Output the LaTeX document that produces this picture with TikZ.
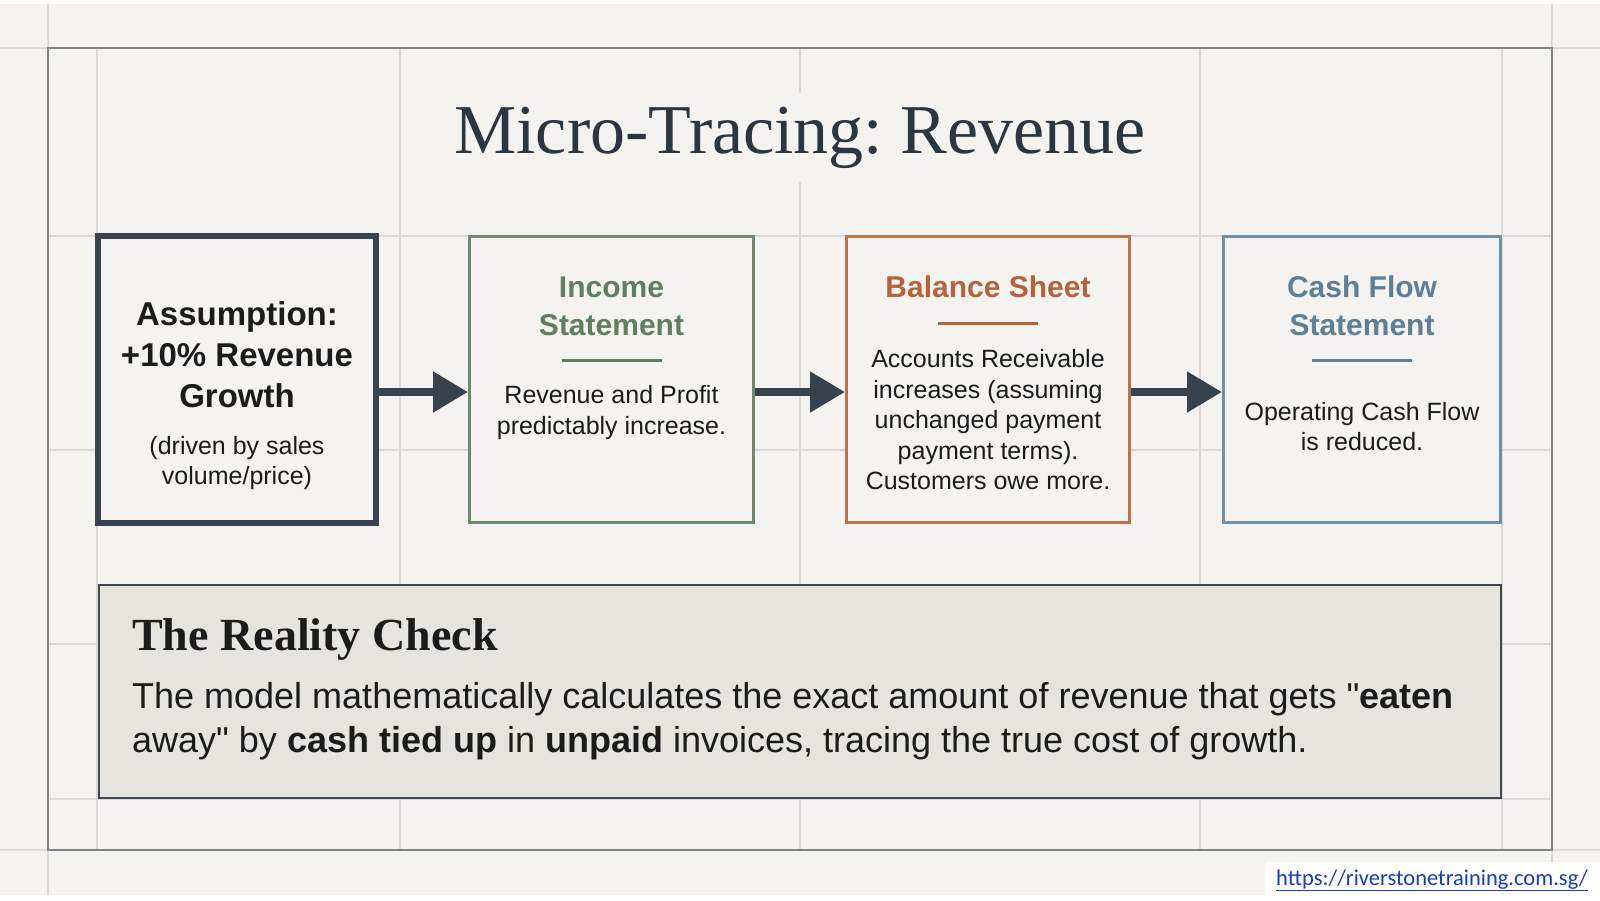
\documentclass[tikz,border=0pt]{standalone}
\usepackage{fontspec}
\setmainfont{Liberation Sans}
\newfontfamily\titlefont{Liberation Serif}
\newfontfamily\linkfont{Carlito}
\usetikzlibrary{arrows.meta}
\frenchspacing

\definecolor{paper}{HTML}{F4F3EF}
\definecolor{gridgray}{HTML}{DAD9D5}
\definecolor{framegray}{HTML}{80858A}
\definecolor{slate}{HTML}{36434F}
\definecolor{ink}{HTML}{1B1B1B}
\definecolor{titleink}{HTML}{2C3640}
\definecolor{greenline}{HTML}{6E8B6C}
\definecolor{greenhead}{HTML}{5F7F5F}
\definecolor{orangeline}{HTML}{C0714D}
\definecolor{orangehead}{HTML}{B5623F}
\definecolor{blueline}{HTML}{7190A8}
\definecolor{bluehead}{HTML}{5E7F98}
\definecolor{checkfill}{HTML}{E6E4DF}
\definecolor{checkline}{HTML}{3E4852}
\definecolor{linkblue}{HTML}{1A3DB5}

\begin{document}
\begin{tikzpicture}[x=1pt, y=-1pt,
  grid/.style={draw=gridgray, line width=1.2pt},
  card/.style={draw, fill=paper, line width=3pt, minimum height=286pt},
  head/.style={align=center, font=\bfseries\fontsize{30}{38}\selectfont},
  body/.style={align=center, text=ink, font=\fontsize{25}{30.5}\selectfont},
  rulebar/.style={line width=3pt},
  flow/.style={draw=slate, line width=8pt, -{Triangle[length=35pt,width=39pt]}}]
\useasboundingbox (0,0) rectangle (1600,900);
\fill[white] (0,0) rectangle (1600,900);
\fill[paper] (0,4) rectangle (1600,895);
\draw[grid] (48,4) -- (48,895);
\draw[grid] (1552,4) -- (1552,895);
\draw[grid] (0,48) -- (1600,48);
\draw[grid] (0,850) -- (1600,850);
\foreach \x in {97,400,800,1200,1502}
  \draw[grid] (\x,48) -- (\x,850);
\foreach \y in {236,450,644,799}
  \draw[grid] (48,\y) -- (1552,\y);
\draw[framegray, line width=2pt] (48,48) rectangle (1552,850);

\node[anchor=base, fill=paper, inner sep=14pt, text=titleink, font=\titlefont\fontsize{70}{80}\selectfont] (title) at (800,153) {Micro-Tracing: Revenue};

\node[card, draw=slate, line width=6pt, minimum width=278pt, minimum height=287pt] (assume) at (237,379.5) {};
\node[card, draw=greenline, minimum width=284pt] (income) at (611.5,379.5) {};
\node[card, draw=orangeline, minimum width=283pt] (balance) at (988,379.5) {};
\node[card, draw=blueline, minimum width=277pt] (cashflow) at (1362,379.5) {};

\node[head, text=ink, font=\bfseries\fontsize{33}{41}\selectfont] (assumehead) at (237,355) {Assumption:\\+10\% Revenue\\Growth};
\node[body] (assumenote) at (237,463) {(driven by sales\\volume/price)};

\node[head, text=greenhead] (incomehead) at (611.5,306) {Income\\Statement};
\draw[rulebar, greenhead] (561.5,360) -- (661.5,360);
\node[body] (incomenote) at (611.5,412.5) {Revenue and Profit\\predictably increase.};

\node[head, text=orangehead] (balancehead) at (988,287) {Balance Sheet};
\draw[rulebar, orangehead] (938,323) -- (1038,323);
\node[body] (balancenote) at (988,420) {Accounts Receivable\\increases (assuming\\unchanged payment\\payment terms).\\Customers owe more.};

\node[head, text=bluehead] (cashhead) at (1362,306) {Cash Flow\\Statement};
\draw[rulebar, bluehead] (1312,360) -- (1412,360);
\node[body] (cashnote) at (1362,426.5) {Operating Cash Flow\\is reduced.};

\coordinate (flowrow) at (0,392);
\draw[flow] (assume.east |- flowrow) -- (income.west |- flowrow);
\draw[flow] (income.east |- flowrow) -- (balance.west |- flowrow);
\draw[flow] (balance.east |- flowrow) -- (cashflow.west |- flowrow);

\node[draw=checkline, fill=checkfill, line width=2.5pt, minimum width=1402pt, minimum height=213pt] (check) at (800,691.5) {};
\node[anchor=base west, inner sep=0pt, text=ink, font=\titlefont\bfseries\fontsize{46}{50}\selectfont] (checkhead) at (132,650) {The Reality Check};
\node[anchor=base west, inner sep=0pt, text=ink, font=\fontsize{36}{44}\selectfont] (checkline1) at (132,708) {The model mathematically calculates the exact amount of revenue that gets \textquotedbl\textbf{eaten}};
\node[anchor=base west, inner sep=0pt, text=ink, font=\fontsize{36}{44}\selectfont] (checkline2) at (132,752) {away\textquotedbl{} by \textbf{cash tied up} in \textbf{unpaid} invoices, tracing the true cost of growth.};

\fill[white] (1265,862) rectangle (1600,900);
\node[anchor=base west, inner sep=0pt, text=linkblue, font=\linkfont\fontsize{22.5}{26}\selectfont] (link) at (1276,885) {\underline{https://riverstonetraining.com.sg/}};
\end{tikzpicture}
\end{document}
